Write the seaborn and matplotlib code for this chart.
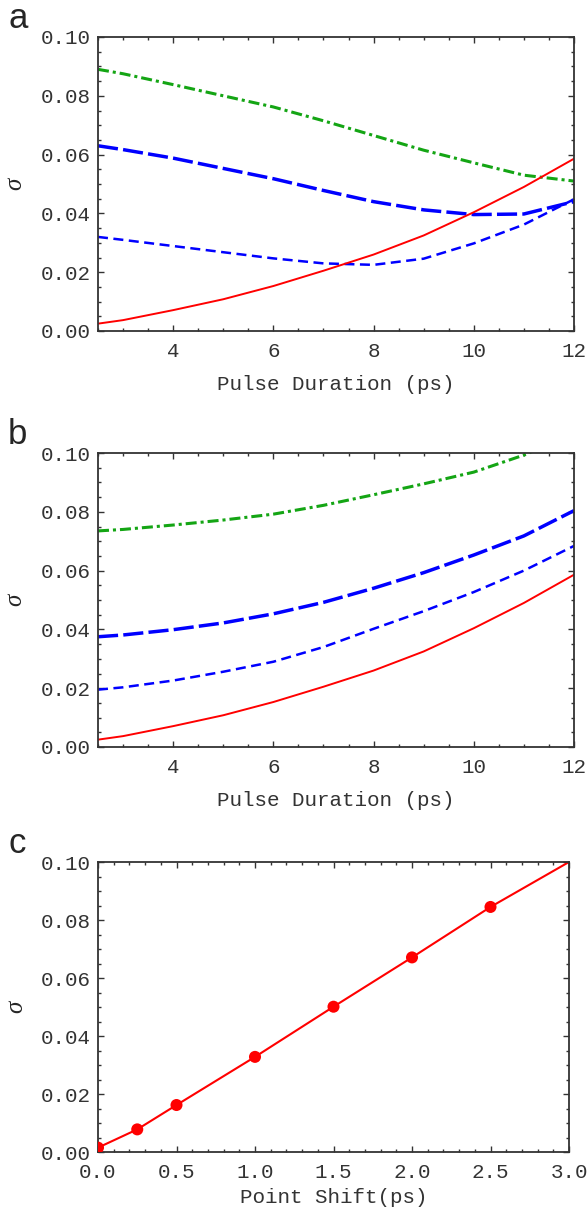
import matplotlib
matplotlib.use('Agg')
import numpy as np
import pandas as pd
import seaborn as sns
from matplotlib import pyplot as plt
from matplotlib.ticker import MultipleLocator, FormatStrFormatter

# 脉冲宽度 (ps)
pulse = [2.5, 3, 4, 5, 6, 7, 8, 9, 10, 11, 12]

# 图 a
red_a = [0.0025, 0.0037, 0.0071, 0.0108, 0.0153, 0.0205, 0.0260, 0.0325, 0.0404, 0.0490, 0.0586]
green_a = [0.0890, 0.0875, 0.0838, 0.0800, 0.0762, 0.0715, 0.0665, 0.0615, 0.0572, 0.0530, 0.0510]
blue_long_a = [0.0630, 0.0617, 0.0588, 0.0553, 0.0518, 0.0478, 0.0440, 0.0412, 0.0396, 0.0398, 0.0440]
blue_short_a = [0.0320, 0.0310, 0.0289, 0.0268, 0.0247, 0.0230, 0.0225, 0.0246, 0.0298, 0.0362, 0.0448]

# 图 b
red_b = red_a
green_b = [0.0735, 0.0740, 0.0755, 0.0772, 0.0792, 0.0822, 0.0858, 0.0895, 0.0935, 0.0993, 0.1065]
blue_long_b = [0.0375, 0.0381, 0.0399, 0.0422, 0.0453, 0.0492, 0.0540, 0.0593, 0.0653, 0.0718, 0.0804]
blue_short_b = [0.0195, 0.0203, 0.0226, 0.0256, 0.0290, 0.0340, 0.0402, 0.0462, 0.0527, 0.0600, 0.0684]

# 图 c
shift_pts = [0.0, 0.25, 0.5, 1.0, 1.5, 2.0, 2.5]
sigma_pts = [0.0015, 0.0078, 0.0162, 0.0328, 0.0501, 0.0671, 0.0845]
shift_line = [0.0, 0.25, 0.5, 1.0, 1.5, 2.0, 2.5, 3.0]
sigma_line = [0.0015, 0.0078, 0.0162, 0.0328, 0.0501, 0.0671, 0.0845, 0.1000]

RED = '#ff0000'
BLUE = '#0000ff'
GREEN = '#14a514'
FRAME = '#333333'
TEXT = '#333333'

sns.set_style('ticks')
mono = 'Liberation Mono'

W, H = 588, 1214
fig = plt.figure(figsize=(W / 100, H / 100), dpi=100)


def box(l, t, r, b):
    return [l / W, 1 - b / H, (r - l) / W, (b - t) / H]


def style_axes(ax, xmaj, xmin, xfmt, xlabel, labelpad):
    ax.set_ylim(0, 0.1)
    ax.xaxis.set_major_locator(MultipleLocator(xmaj))
    ax.xaxis.set_minor_locator(MultipleLocator(xmin))
    ax.yaxis.set_major_locator(MultipleLocator(0.02))
    ax.yaxis.set_minor_locator(MultipleLocator(0.005))
    ax.xaxis.set_major_formatter(FormatStrFormatter(xfmt))
    ax.yaxis.set_major_formatter(FormatStrFormatter('%.2f'))
    ax.tick_params(which='both', direction='in', top=True, right=True,
                   color=FRAME, width=1.0)
    ax.tick_params(which='major', length=4, labelsize=15, labelcolor=TEXT)
    ax.tick_params(axis='x', which='major', pad=8)
    ax.tick_params(axis='y', which='major', pad=5)
    ax.tick_params(which='minor', length=2.3)
    for lab in ax.get_xticklabels() + ax.get_yticklabels():
        lab.set_family(mono)
    for sp in ax.spines.values():
        sp.set_color(FRAME)
        sp.set_linewidth(1.3)
    ax.set_xlabel(xlabel, family=mono, fontsize=15, color=TEXT, labelpad=labelpad)
    ax.set_ylabel('σ', family='Liberation Serif', style='italic', fontsize=18)
    ax.yaxis.set_label_coords(-0.15, 0.5)


def pulse_panel(ax, red, green, blong, bshort):
    df = pd.DataFrame({'pulse': pulse, 'red': red, 'green': green,
                       'blong': blong, 'bshort': bshort})
    sns.lineplot(data=df, x='pulse', y='green', ax=ax, color=GREEN, linewidth=2.2,
                 linestyle=(0, (3.6, 1.3, 1.0, 1.3)))
    sns.lineplot(data=df, x='pulse', y='blong', ax=ax, color=BLUE, linewidth=2.5,
                 linestyle=(0, (5.8, 1.5)))
    sns.lineplot(data=df, x='pulse', y='bshort', ax=ax, color=BLUE, linewidth=1.8,
                 linestyle=(0, (4.0, 2.2)))
    sns.lineplot(data=df, x='pulse', y='red', ax=ax, color=RED, linewidth=1.4)
    ax.set_xlim(2.5, 12)
    style_axes(ax, 2, 0.5, '%d', 'Pulse Duration (ps)', 10)


ax_a = fig.add_axes(box(98, 37, 574, 331))
pulse_panel(ax_a, red_a, green_a, blue_long_a, blue_short_a)

ax_b = fig.add_axes(box(98, 453, 574, 747))
pulse_panel(ax_b, red_b, green_b, blue_long_b, blue_short_b)

ax_c = fig.add_axes(box(98, 862, 569, 1152))
sns.lineplot(x=shift_line, y=sigma_line, ax=ax_c, color=RED, linewidth=1.5)
sns.scatterplot(x=shift_pts, y=sigma_pts, ax=ax_c, color=RED, s=75,
                edgecolor='none', zorder=3)
ax_c.set_xlim(0, 3.0)
style_axes(ax_c, 0.5, 0.1, '%.1f', 'Point Shift(ps)', 4)

for letter, base in [('a', 28), ('b', 444), ('c', 853)]:
    fig.text(8 / W, 1 - base / H, letter, family='Liberation Sans', fontsize=25,
             ha='left', va='baseline')

fig.savefig('out.png', dpi=100)
